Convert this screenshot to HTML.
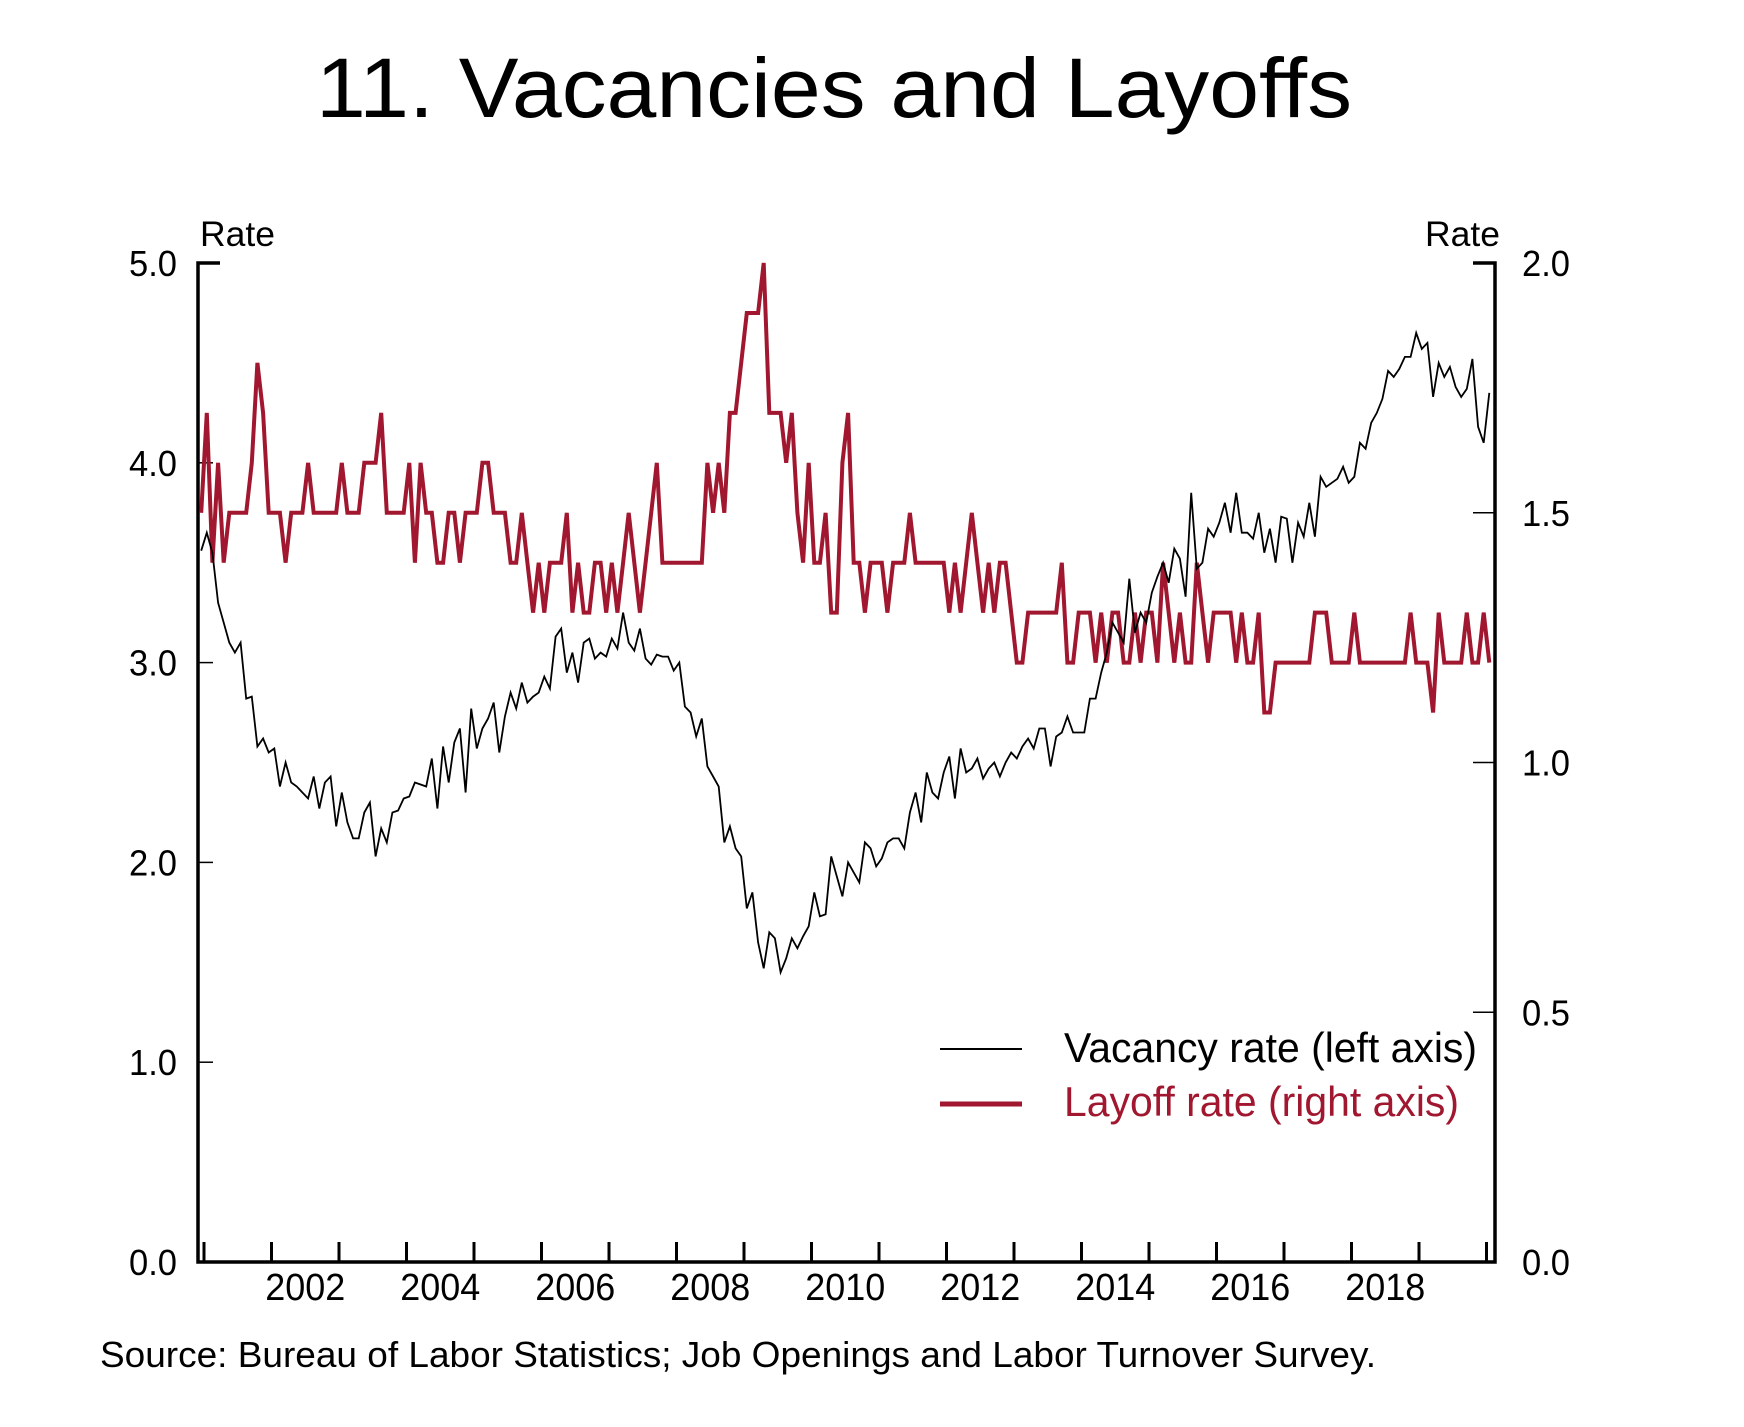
<!DOCTYPE html>
<html><head><meta charset="utf-8"><style>
html,body{margin:0;padding:0;background:#fff;}
svg{display:block;font-family:"Liberation Sans",Arial,sans-serif;}
</style></head><body>
<svg id="chart" width="1744" height="1427" viewBox="0 0 1744 1427" xmlns="http://www.w3.org/2000/svg">
<text x="316" y="117" font-size="84" textLength="1036" lengthAdjust="spacingAndGlyphs" fill="#000">11.  Vacancies and Layoffs</text>
<g id="axes"></g>
<g id="series"></g>
<g>
<line x1="940" y1="1049" x2="1022" y2="1049" stroke="#000" stroke-width="2"/>
<text x="1064" y="1062" font-size="42" textLength="413" lengthAdjust="spacingAndGlyphs" fill="#000">Vacancy rate (left axis)</text>
<line x1="940" y1="1104" x2="1022" y2="1104" stroke="#a0172f" stroke-width="5"/>
<text x="1064" y="1116" font-size="42" textLength="395" lengthAdjust="spacingAndGlyphs" fill="#a0172f">Layoff rate (right axis)</text>
</g>
<text x="100" y="1367" font-size="36" textLength="1276" lengthAdjust="spacingAndGlyphs" fill="#000">Source: Bureau of Labor Statistics; Job Openings and Labor Turnover Survey.</text>
</svg>
<script>
const startYear = 2000.9585; // first monthly observation
const vacancy = [3.56,
3.65,3.55,3.3,3.2,3.1,3.05,3.1,2.82,2.83,2.58,2.62,2.55,
2.57,2.38,2.5,2.4,2.38,2.35,2.32,2.43,2.27,2.4,2.43,2.18,
2.35,2.2,2.12,2.12,2.25,2.3,2.03,2.17,2.1,2.25,2.26,2.32,
2.33,2.4,2.39,2.38,2.52,2.27,2.58,2.4,2.6,2.67,2.35,2.77,
2.57,2.67,2.72,2.8,2.55,2.73,2.85,2.77,2.9,2.8,2.83,2.85,
2.93,2.87,3.13,3.17,2.95,3.05,2.9,3.1,3.12,3.02,3.05,3.03,
3.12,3.07,3.25,3.1,3.06,3.17,3.02,2.99,3.04,3.03,3.03,2.96,
3.0,2.78,2.75,2.63,2.72,2.48,2.43,2.38,2.1,2.18,2.07,2.03,
1.77,1.85,1.6,1.47,1.65,1.62,1.45,1.52,1.62,1.57,1.63,1.68,
1.85,1.73,1.74,2.03,1.93,1.83,2.0,1.95,1.9,2.1,2.07,1.98,
2.02,2.1,2.12,2.12,2.07,2.25,2.35,2.2,2.45,2.35,2.32,2.45,
2.53,2.32,2.57,2.45,2.47,2.52,2.42,2.47,2.5,2.43,2.5,2.55,
2.52,2.58,2.62,2.57,2.67,2.67,2.48,2.63,2.65,2.73,2.65,2.65,
2.65,2.82,2.82,2.95,3.05,3.2,3.15,3.1,3.42,3.15,3.25,3.2,
3.35,3.43,3.5,3.4,3.57,3.52,3.33,3.85,3.47,3.5,3.67,3.63,
3.7,3.8,3.65,3.85,3.65,3.65,3.62,3.75,3.55,3.67,3.5,3.73,
3.72,3.5,3.7,3.63,3.8,3.63,3.93,3.88,3.9,3.92,3.98,3.9,
3.93,4.1,4.07,4.2,4.25,4.32,4.46,4.43,4.47,4.53,4.53,4.65,
4.57,4.6,4.33,4.5,4.43,4.48,4.38,4.33,4.37,4.52,4.18,4.1,4.35];
const layoff = [
1.5,1.7,1.4,1.6,1.4,1.5,1.5,1.5,1.5,1.6,1.8,1.7,
1.5,1.5,1.5,1.4,1.5,1.5,1.5,1.6,1.5,1.5,1.5,1.5,
1.5,1.6,1.5,1.5,1.5,1.6,1.6,1.6,1.7,1.5,1.5,1.5,
1.5,1.6,1.4,1.6,1.5,1.5,1.4,1.4,1.5,1.5,1.4,1.5,
1.5,1.5,1.6,1.6,1.5,1.5,1.5,1.4,1.4,1.5,1.4,1.3,
1.4,1.3,1.4,1.4,1.4,1.5,1.3,1.4,1.3,1.3,1.4,1.4,
1.3,1.4,1.3,1.4,1.5,1.4,1.3,1.4,1.5,1.6,1.4,1.4,
1.4,1.4,1.4,1.4,1.4,1.4,1.6,1.5,1.6,1.5,1.7,1.7,
1.8,1.9,1.9,1.9,2.0,1.7,1.7,1.7,1.6,1.7,1.5,1.4,
1.6,1.4,1.4,1.5,1.3,1.3,1.6,1.7,1.4,1.4,1.3,1.4,
1.4,1.4,1.3,1.4,1.4,1.4,1.5,1.4,1.4,1.4,1.4,1.4,
1.4,1.3,1.4,1.3,1.4,1.5,1.4,1.3,1.4,1.3,1.4,1.4,
1.3,1.2,1.2,1.3,1.3,1.3,1.3,1.3,1.3,1.4,1.2,1.2,
1.3,1.3,1.3,1.2,1.3,1.2,1.3,1.3,1.2,1.2,1.3,1.2,
1.3,1.3,1.2,1.4,1.3,1.2,1.3,1.2,1.2,1.4,1.3,1.2,
1.3,1.3,1.3,1.3,1.2,1.3,1.2,1.2,1.3,1.1,1.1,1.2,
1.2,1.2,1.2,1.2,1.2,1.2,1.3,1.3,1.3,1.2,1.2,1.2,
1.2,1.3,1.2,1.2,1.2,1.2,1.2,1.2,1.2,1.2,1.2,1.3,
1.2,1.2,1.2,1.1,1.3,1.2,1.2,1.2,1.2,1.3,1.2,1.2,
1.3,1.2];
const leftTicks = [0,1,2,3,4,5];
const rightTicks = [0,0.5,1,1.5,2];
const yearTicks = [2001,2002,2003,2004,2005,2006,2007,2008,2009,2010,2011,2012,2013,2014,2015,2016,2017,2018,2019,2020];
const yearLabels = [2002,2004,2006,2008,2010,2012,2014,2016,2018];

const NS = "http://www.w3.org/2000/svg";
const L = 198, R = 1495, T = 263, B = 1262;
const xS = t => 204 + (t - 2001) * 67.5;
const yL = v => B - (v / 5) * (B - T);
const yR = v => B - (v / 2) * (B - T);
function mk(tag, attrs, parent, text) {
  const e = document.createElementNS(NS, tag);
  for (const k in attrs) e.setAttribute(k, attrs[k]);
  if (text !== undefined) e.textContent = text;
  parent.appendChild(e);
  return e;
}
const ax = document.getElementById('axes');
const se = document.getElementById('series');

let e = mk('polyline', {points: `${L+22},${T} ${L},${T} ${L},${B} ${R},${B} ${R},${T} ${R-22},${T}`, fill: 'none', stroke: '#000', 'stroke-width': 3.5}, ax);



leftTicks.forEach(v => {
  const y = yL(v);
  if (v > 0 && v < 5) {
    const t = mk('line', {x1: L, x2: L + 15, y1: y, y2: y, stroke: '#000', 'stroke-width': 1.5}, ax);
    
    
  }
  const lb = mk('text', {x: 177, y: y + 13, 'font-size': 36, 'text-anchor': 'end', textLength: 48, lengthAdjust: 'spacingAndGlyphs'}, ax, v.toFixed(1));
  
  
});
rightTicks.forEach(v => {
  const y = yR(v);
  if (v > 0 && v < 2) {
    const t = mk('line', {x1: R - 22, x2: R, y1: y, y2: y, stroke: '#000', 'stroke-width': 1.5}, ax);
    
    
  }
  const lb = mk('text', {x: 1522, y: y + 13, 'font-size': 36, textLength: 48, lengthAdjust: 'spacingAndGlyphs'}, ax, v.toFixed(1));
  
  
});
yearTicks.forEach(yr => {
  const x = xS(yr);
  const t = mk('line', {x1: x, x2: x, y1: B, y2: B - 20, stroke: '#000', 'stroke-width': 3}, ax);
  
  
});
yearLabels.forEach(yr => {
  const lb = mk('text', {x: xS(yr + 0.5), y: 1300, 'font-size': 38, 'text-anchor': 'middle', textLength: 80, lengthAdjust: 'spacingAndGlyphs'}, ax, String(yr));
  
  
});
e = mk('text', {x: 200, y: 246, 'font-size': 35, textLength: 75, lengthAdjust: 'spacingAndGlyphs'}, ax, 'Rate');


e = mk('text', {x: 1500, y: 246, 'font-size': 35, 'text-anchor': 'end', textLength: 75, lengthAdjust: 'spacingAndGlyphs'}, ax, 'Rate');



const lp = layoff.map((v, i) => `${xS(startYear + i/12).toFixed(1)},${yR(v).toFixed(1)}`).join(' ');
e = mk('polyline', {points: lp, fill: 'none', stroke: '#a0172f', 'stroke-width': 4, 'stroke-linejoin': 'miter', 'stroke-miterlimit': 3}, se);


const vp = vacancy.map((v, i) => `${xS(startYear + i/12).toFixed(1)},${yL(v).toFixed(1)}`).join(' ');
e = mk('polyline', {points: vp, fill: 'none', stroke: '#000', 'stroke-width': 1.8}, se);


</script>
</body></html>
